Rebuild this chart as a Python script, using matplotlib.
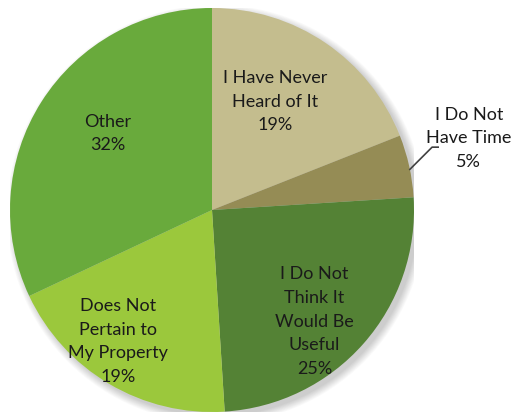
import numpy as np
import matplotlib.pyplot as plt
from matplotlib.patches import Circle

plt.rcParams['font.family'] = ['Lato', 'DejaVu Sans']

labels = ["I Have Never\nHeard of It", "I Do Not\nHave Time", "I Do Not\nThink It\nWould Be\nUseful",
          "Does Not\nPertain to\nMy Property", "Other"]
shares = [19, 5, 25, 19, 32]
colors = ["#c4bd8e", "#958c55", "#548235", "#9bc83c", "#69aa3c"]

# where each label sits: radius (pie = 1) and a nudge of the angle in degrees
label_r = [0.62, 1.32, 0.75, 0.80, 0.64]
label_nudge = [4, 3, -6, -5, -4]

W, H = 523, 413
cx, cy, R = 212, 203, 202

fig = plt.figure(figsize=(W / 100, H / 100), dpi=100)
ax = fig.add_axes([(cx - R) / W, (cy - R) / H, 2 * R / W, 2 * R / H])

# soft shadow
for i in range(10):
    ax.add_patch(Circle((0.02, -0.02), 1.0 + 0.004 * i, color='black', alpha=0.018, lw=0, zorder=0))

wedges, _ = ax.pie(shares, colors=colors, startangle=90, counterclock=False, radius=1.0,
                   wedgeprops=dict(linewidth=0), frame=True)
ax.set_xlim(-1, 1)
ax.set_ylim(-1, 1)
ax.set_aspect('equal')
ax.axis('off')

for w, lab, val, r, nd in zip(wedges, labels, shares, label_r, label_nudge):
    mid = np.deg2rad((w.theta1 + w.theta2) / 2 + nd)
    x, y = r * np.cos(mid), r * np.sin(mid)
    ax.text(x, y, f"{lab}\n{val}%", ha='center', va='center', fontsize=13,
            color='#1a1a1a', linespacing=1.58, zorder=5, clip_on=False)

# leader line for the small slice
t = wedges[1]
a = np.deg2rad((t.theta1 + t.theta2) / 2 - 1)
x0, y0 = np.cos(a), np.sin(a)
ax.plot([x0, x0 + 0.11, x0 + 0.14], [y0, y0 + 0.11, y0 + 0.11], color='#404040', lw=1.2,
        clip_on=False, zorder=5)

fig.savefig("out.png", dpi=100, facecolor='white')
